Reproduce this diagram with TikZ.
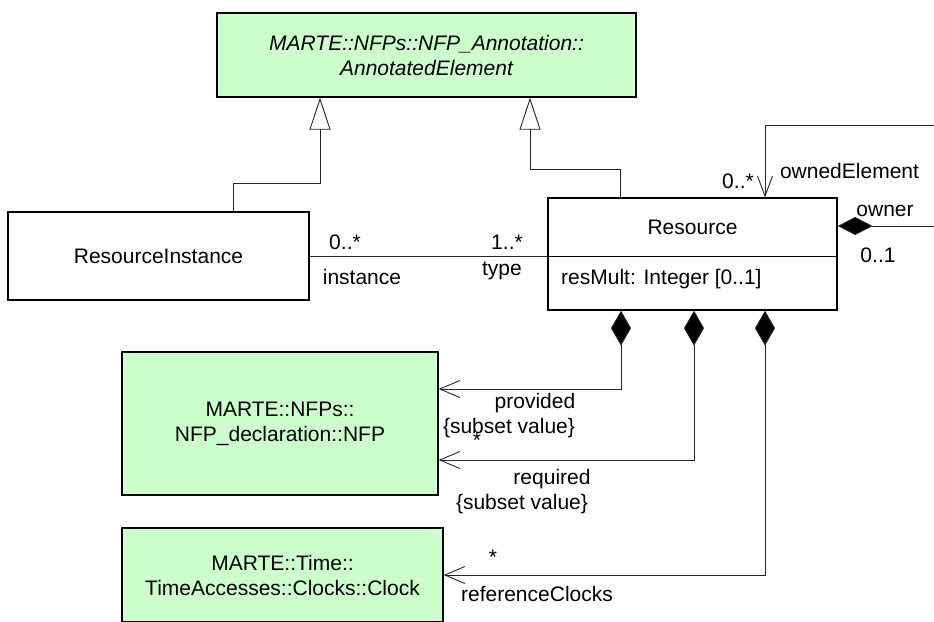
\documentclass[tikz,border=0pt]{standalone}
\usepackage{fontspec}
\setmainfont{Liberation Sans}
\usetikzlibrary{arrows.meta,calc}
\definecolor{nfpgreen}{HTML}{CCFFCC}
\begin{document}
\begin{tikzpicture}[x=1pt,y=-1pt,
  every node/.style={font=\fontsize{21}{25}\selectfont, inner sep=0pt},
  box/.style={draw=black, line width=1.3pt, fill=white, align=center},
  greenbox/.style={box, fill=nfpgreen},
  lbl/.style={anchor=center},
  conn/.style={draw=black!85, line width=0.9pt},
  genarrow/.style={conn, -{Triangle[open, length=32pt, width=21pt, fill=white, line width=0.9pt]}},
  comparrow/.style={conn, {Diamond[length=35pt, width=20pt, fill=black]}-{Straight Barb[length=20pt, width=17pt, line width=0.9pt]}},
  ownarrow/.style={conn, {Diamond[length=35pt, width=18pt, fill=black]}-{Straight Barb[length=20pt, width=15pt, line width=0.9pt]}}
]
\useasboundingbox (0,0) rectangle (934,621);
\clip (0,0) rectangle (934,621);

% classes
\node[greenbox, minimum width=419pt, minimum height=84pt] (ae) at (426.5,55)
  {\itshape MARTE::NFPs::NFP\_Annotation::\\[0pt]\itshape AnnotatedElement};
\node[box, minimum width=301pt, minimum height=88pt] (ri) at (158.5,256) {ResourceInstance};
\node[box, minimum width=289pt, minimum height=112pt] (res) at (692.5,254) {};
\node (resname) at (692.5,227) {Resource};
\draw[line width=1.3pt] ($(res.north west)+(0,59)$) -- ($(res.north east)+(0,59)$);
\node[anchor=west] (resattr) at (561,279) {resMult: Integer [0..1]};
\node[greenbox, minimum width=316pt, minimum height=143pt] (nfp) at (280,423.5)
  {MARTE::NFPs::\\NFP\_declaration::NFP};
\node[greenbox, minimum width=321pt, minimum height=94pt] (clk) at (282.5,575)
  {MARTE::Time::\\TimeAccesses::Clocks::Clock};

% generalizations
\draw[genarrow] ([xshift=74.5pt]ri.north) |- (320,183) -- (320,0 |- ae.south);
\draw[genarrow] ([xshift=-72.5pt]res.north) |- (530,169) -- (530,0 |- ae.south);

% association ResourceInstance - Resource
\draw[conn] (ri.east) -- (ri.east -| res.west);
\node[lbl] (m1) at (345,242) {0..*};
\node[lbl] (m2) at (507,242) {1..*};
\node[lbl] (r1) at (362,277) {instance};
\node[lbl] (r2) at (502,271) {type};

% self composition owner / ownedElement
\draw[ownarrow] ([yshift=28pt]res.east) -- (960,226) -- (960,125) -- (765,125) -- ([xshift=72.5pt]res.north);
\node[lbl] (m3) at (738,181) {0..*};
\node[lbl] (r3) at (849.5,171) {ownedElement};
\node[lbl] (r4) at (885,211) {owner};
\node[lbl] (m4) at (878,255) {0..1};

% compositions to NFP and Clock
\draw[comparrow] ([xshift=-71.5pt]res.south) |- ([yshift=34.5pt]nfp.east);
\draw[comparrow] ([xshift=1.5pt]res.south) |- ([yshift=-36.5pt]nfp.east);
\draw[comparrow] ([xshift=72.5pt]res.south) |- (clk.east);

\node[lbl] (r5) at (535,403) {provided};
\node[lbl] (c5) at (509,428) {\{subset value\}};
\node[lbl] (m5) at (477,440) {*};
\node[lbl] (r6) at (552,479) {required};
\node[lbl] (c6) at (522,504) {\{subset value\}};
\node[lbl] (m6) at (493,557) {*};
\node[lbl] (r7) at (537,594) {referenceClocks};
\end{tikzpicture}
\end{document}
